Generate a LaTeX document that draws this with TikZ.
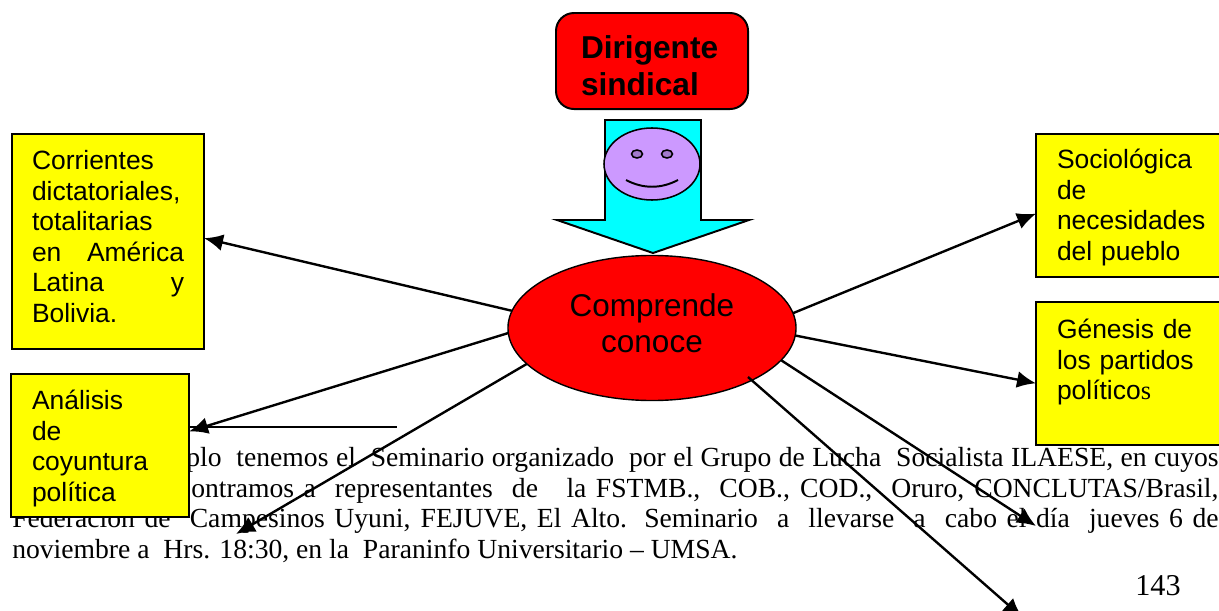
\documentclass[tikz,border=0pt]{standalone}
\usepackage{fontspec}
\setmainfont{Liberation Serif}
\setsansfont{Liberation Sans}
\usetikzlibrary{arrows.meta,shapes.geometric}
\definecolor{boxyellow}{RGB}{255,255,0}
\definecolor{arrowcyan}{RGB}{0,255,255}
\definecolor{facelilac}{RGB}{204,153,255}
\definecolor{eyelilac}{RGB}{163,122,204}
\definecolor{fillred}{RGB}{255,0,0}
\tikzset{
    conceptbox/.style={draw,fill=boxyellow,line width=1.4pt,anchor=north west,align=left,outer sep=0pt,inner xsep=0.5cm,inner ysep=0pt,font=\sffamily\fontsize{18.8}{21.7}\selectfont},
    linkarrow/.style={line width=1.7pt,-{Latex[length=13.5pt,width=12pt]}},
    bodyline/.style={anchor=base west,inner sep=0pt,font=\rmfamily\fontsize{19.65}{21.7}\selectfont}
}
\begin{document}
\begin{tikzpicture}[x=0.025cm,y=-0.025cm]
        \useasboundingbox (0,0) rectangle (1219,611);

        \node[bodyline] (lineone) at (186,466){\makebox[25.8cm][s]{plo\ \ tenemos el\ \ Seminario organizado\ \ por el Grupo de Lucha\ \ Socialista ILAESE, en cuyos}};
        \node[bodyline] (linetwo) at (191,497){\makebox[25.675cm][s]{ontramos a\ \ representantes\ \ de\ \ \ la FSTMB.,\ \ COB., COD.,\ \ Oruro, CONCLUTAS/Brasil,}};
        \node[bodyline] (linethree) at (12,527){\makebox[30.15cm][s]{Federación de\ \ Campesinos Uyuni, FEJUVE, El Alto. Seminario\ \ a\ \ llevarse\ \ a\ \ cabo el día\ \ jueves 6 de}};
        \node[bodyline] (linefour) at (12,558){noviembre a\ \ Hrs. 18:30, en la\ \ Paraninfo Universitario – UMSA.};
        \node[bodyline,font=\rmfamily\fontsize{21.5}{24}\selectfont] (pagenum) at (1135,595){143};

        \node[conceptbox,text width=3.8cm,minimum height=5.375cm] (corrientes) at (12,134){Corrientes\\dictatoriales,\\totalitarias\\en\hfill América\\Latina\hfill y\\Bolivia.\rule[-7.2pt]{0pt}{7.2pt}};
        \node[conceptbox,text width=3.4cm,inner xsep=0.525cm,minimum height=3.575cm] (analisis) at (11,374){\rule{0pt}{18pt}Análisis\\de\\coyuntura\\política};
        \node[conceptbox,text width=3.6cm,inner xsep=0.525cm,minimum height=3.575cm] (sociologica) at (1036,134){\rule{0pt}{17pt}Sociológica\\de\\necesidades\\del pueblo};
        \node[conceptbox,text width=3.6cm,inner xsep=0.525cm,minimum height=3.575cm] (genesis) at (1036,302){\rule{0pt}{15.5pt}Génesis de\\los partidos\\polític{o}{\rmfamily s}\\~};

        \node[draw,fill=fillred,rounded corners=0.45cm,line width=1.4pt,anchor=north west,outer sep=0pt,minimum width=4.8cm,minimum height=2.4cm,text width=3.55cm,inner xsep=0.625cm,inner ysep=0pt,align=left,font=\sffamily\bfseries\fontsize{22.5}{26.3}\selectfont] (dirigente) at (556,13){\rule{0pt}{23pt}Dirigente\\sindical};

        \draw[fill=arrowcyan,line width=1.4pt] (605,120) -- (701,120) -- (701,220) -- (749,220) -- (653,253) -- (557,220) -- (605,220) -- cycle;
        \draw[fill=facelilac,line width=1.1pt] (652,164) ellipse (48 and 36);
        \draw[fill=eyelilac,line width=1.1pt] (637,154) ellipse (5.5 and 4);
        \draw[fill=eyelilac,line width=1.1pt] (667,154) ellipse (5.5 and 4);
        \draw[line width=1.4pt] (626,180) .. controls (643,189) and (661,189) .. (678,180);

        \node[draw,fill=fillred,ellipse,line width=1pt,outer sep=0pt,inner sep=0pt,minimum width=7.2cm,minimum height=3.625cm,align=center,font=\sffamily\fontsize{22.4}{25.6}\selectfont] (conoce) at (652,328){Comprende\\conoce\rule[-7pt]{0pt}{7pt}};

        \coordinate (ruleend) at (397,427);
        \coordinate (cutin) at (748,377);
        \coordinate (lowleft) at (236,534);
        \coordinate (lowmid) at (1036,526);
        \coordinate (lowright) at (1022,617);

        \draw[linkarrow] (conoce.173.6) -- (corrientes.2);
        \draw[linkarrow] (conoce.182.8) -- (analisis.9.3);
        \draw[line width=1.7pt] (analisis.east |- ruleend) -- (ruleend);
        \draw[linkarrow] (conoce.196.7) -- (lowleft);
        \draw[linkarrow] (cutin) -- (lowright);
        \draw[linkarrow] (conoce.346) -- (lowmid);
        \draw[linkarrow] (conoce.6.4) -- (sociologica.185.2);
        \draw[linkarrow] (conoce.357.2) -- (genesis.186.4);
    \end{tikzpicture}
\end{document}
